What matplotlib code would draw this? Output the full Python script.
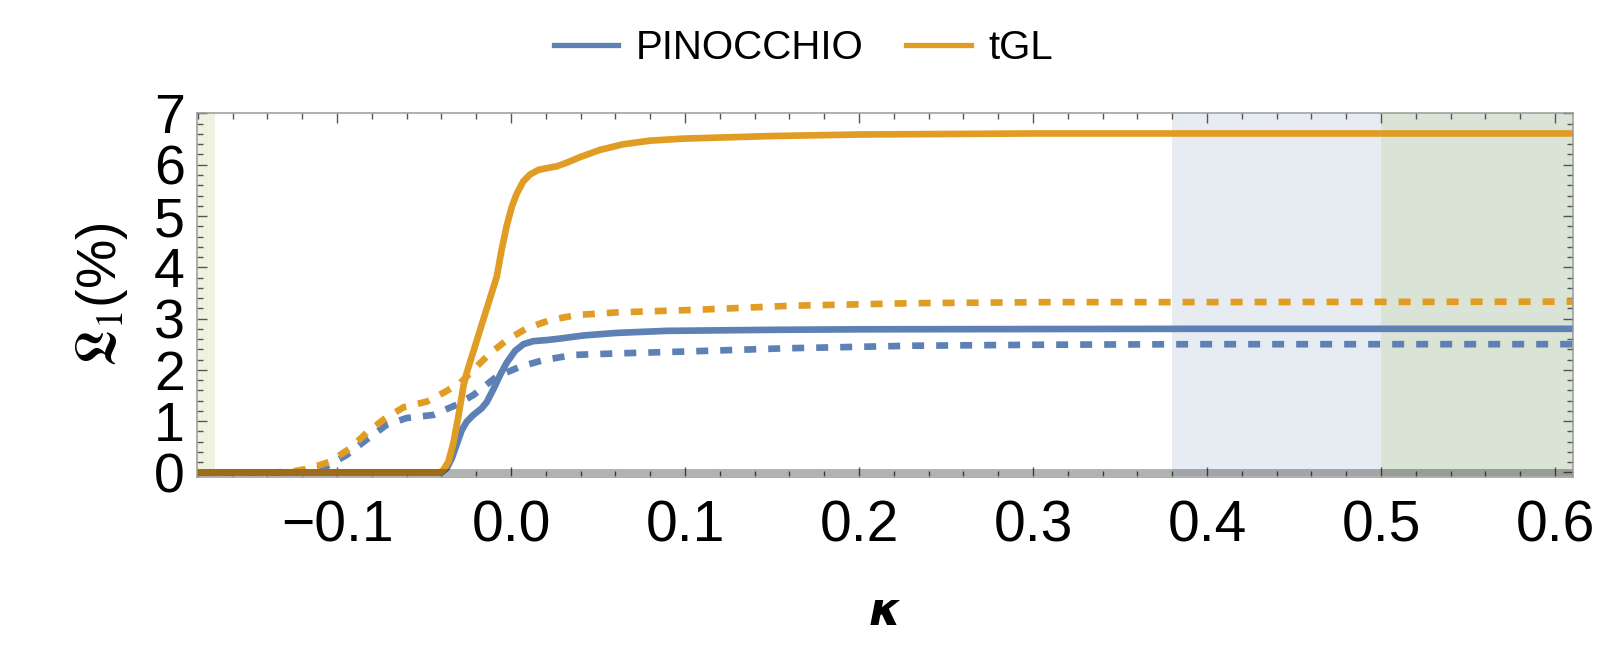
import numpy as np
import matplotlib.pyplot as plt
from matplotlib.ticker import MultipleLocator

# Mathematica default colours
BLUE = '#5E81B5'
ORANGE = '#E19C24'
GREEN = '#8FB131'

# kappa / L1 values
k_tgl = [-0.18, -0.0408, -0.0389, -0.0360, -0.0332, -0.0303, -0.0274, -0.0255, -0.0169,
         -0.0082, -0.0054, -0.0025, 0.0004, 0.0033, 0.0071, 0.0109, 0.0157, 0.0215,
         0.0263, 0.0320, 0.0397, 0.0511, 0.0645, 0.0799, 0.0990, 0.15, 0.20, 0.30, 0.61]
l1_tgl = [0.0, 0.0, 0.05, 0.21, 0.57, 1.09, 1.68, 1.94, 2.88,
          3.82, 4.35, 4.81, 5.18, 5.44, 5.68, 5.81, 5.90, 5.94,
          5.97, 6.04, 6.15, 6.29, 6.40, 6.47, 6.51, 6.56, 6.59, 6.61, 6.61]

k_pin = [-0.18, -0.0399, -0.0370, -0.0341, -0.0312, -0.0284, -0.0255, -0.0217, -0.0169,
         -0.0140, -0.0102, -0.0063, -0.0025, 0.0023, 0.0071, 0.0128, 0.0205, 0.0282,
         0.0416, 0.0607, 0.0895, 0.15, 0.20, 0.40, 0.61]
l1_pin = [0.0, 0.0, 0.08, 0.27, 0.55, 0.82, 0.99, 1.12, 1.25,
          1.37, 1.62, 1.90, 2.14, 2.37, 2.50, 2.56, 2.58, 2.61,
          2.67, 2.72, 2.76, 2.78, 2.79, 2.80, 2.80]

k_tgl_d = [-0.18, -0.135, -0.125, -0.1155, -0.104, -0.0925, -0.083, -0.0733, -0.0618,
           -0.0485, -0.039, -0.0293, -0.0217, -0.0121, -0.0025, 0.009, 0.0224, 0.0378,
           0.0607, 0.106, 0.161, 0.231, 0.308, 0.371, 0.61]
l1_tgl_d = [0.0, 0.0, 0.02, 0.08, 0.21, 0.47, 0.77, 1.03, 1.27,
            1.38, 1.55, 1.74, 2.00, 2.32, 2.58, 2.81, 2.97, 3.07,
            3.12, 3.17, 3.25, 3.30, 3.32, 3.32, 3.33]

k_pin_d = [-0.18, -0.125, -0.115, -0.106, -0.0944, -0.083, -0.0714, -0.06, -0.0447,
           -0.0312, -0.0216, -0.0082, 0.0052, 0.0186, 0.0358, 0.0607, 0.103, 0.158,
           0.231, 0.308, 0.40, 0.61]
l1_pin_d = [0.0, 0.0, 0.03, 0.12, 0.34, 0.64, 0.93, 1.06, 1.12,
            1.32, 1.51, 1.87, 2.06, 2.19, 2.29, 2.32, 2.36, 2.42,
            2.47, 2.49, 2.50, 2.50]

# shaded kappa ranges
band_left = (-0.19, -0.17)
band_blue = (0.38, 0.65)
band_green = (0.5, 0.65)

plt.rcParams['font.family'] = ['Liberation Sans', 'DejaVu Sans']

fig = plt.figure(figsize=(16.11, 6.5), dpi=100)
ax = fig.add_axes([0.1223, 0.2662, 0.8541, 0.5600])

ax.axvspan(*band_left, color=GREEN, alpha=0.15, lw=0)
ax.axvspan(*band_blue, color=BLUE, alpha=0.15, lw=0)
ax.axvspan(*band_green, color=GREEN, alpha=0.15, lw=0)

lw = 4.8
ax.plot(k_pin_d, l1_pin_d, color=BLUE, lw=lw, dashes=(1.8, 1.8), dash_capstyle='butt')
ax.plot(k_tgl_d, l1_tgl_d, color=ORANGE, lw=lw, dashes=(1.8, 1.8), dash_capstyle='butt')
ax.plot(k_pin, l1_pin, color=BLUE, lw=lw, label='PINOCCHIO', solid_joinstyle='round')
ax.plot(k_tgl, l1_tgl, color=ORANGE, lw=lw, label='tGL', solid_joinstyle='round')
ax.axhline(0, color='black', alpha=0.3, lw=5)

ax.set_xlim(-0.1805, 0.6103)
ax.set_ylim(-0.09, 7.01)

ax.xaxis.set_major_locator(MultipleLocator(0.1))
ax.xaxis.set_minor_locator(MultipleLocator(0.02))
ax.yaxis.set_major_locator(MultipleLocator(1))
ax.yaxis.set_minor_locator(MultipleLocator(0.2))
ax.xaxis.set_major_formatter(lambda v, p: f'{v:.1f}'.replace('-', '\u2212') if abs(v) > 1e-9 else '0.0')

for s in ax.spines.values():
    s.set_color('#9a9a9a')
    s.set_linewidth(1.1)
ax.tick_params(which='both', direction='in', top=True, right=True, color='#555555', width=1.0)
ax.tick_params(which='major', length=7)
ax.tick_params(which='minor', length=4.3)
ax.tick_params(axis='x', which='major', labelsize=41, pad=16)
ax.tick_params(axis='y', which='major', labelsize=40, pad=8.6)

ax.set_xlabel('\u03ba', fontsize=33, style='italic', fontweight='bold', family='DejaVu Sans')
ax.xaxis.set_label_coords(0.5, -0.31)
ax.set_ylabel(r'$\mathfrak{L}_1$(%)', fontsize=40, math_fontfamily='stix')
ax.yaxis.set_label_coords(-0.049, 0.5)

leg = fig.legend(loc='center', bbox_to_anchor=(0.4988, 0.926), ncol=2, frameon=False,
                 fontsize=29, handlelength=1.6, handletextpad=0.45, columnspacing=1.05)
for h in leg.get_lines():
    h.set_linewidth(3.8)

fig.savefig('out.png', dpi=100)
